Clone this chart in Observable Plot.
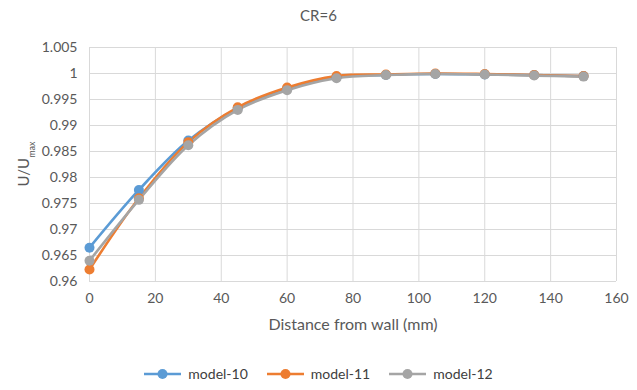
<!DOCTYPE html>
<html>
<head>
<meta charset="utf-8">
<script src="https://cdn.jsdelivr.net/npm/d3@7"></script>
<script src="https://cdn.jsdelivr.net/npm/@observablehq/plot@0.6"></script>
<style>
  body { margin: 0; background: #fff; font-family: Lato, "Liberation Sans", sans-serif; }
  #wrap { width: 637px; height: 390px; position: relative; }
  #title { height: 30px; line-height: 30px; text-align: center; font-size: 15px; color: #595959; }
  #legend { position: absolute; top: 365px; left: 0; width: 637px; display: flex; justify-content: center; gap: 19px; font-size: 14px; color: #404040; }
  #legend .item { display: flex; align-items: center; gap: 7px; }
</style>
</head>
<body>
<div id="wrap">
  <div id="title">CR=6</div>
  <div id="chart"></div>
  <div id="legend"></div>
</div>
<script>
const distance = [0, 15, 30, 45, 60, 75, 90, 105, 120, 135, 150];
const model10 = [0.9665, 0.9776, 0.9871, 0.9933, 0.9971, 0.9993, 0.9997, 0.9999, 0.9998, 0.9997, 0.9995];
const model11 = [0.9623, 0.9760, 0.9868, 0.9935, 0.9973, 0.9995, 0.9998, 1.0000, 0.9999, 0.9997, 0.9995];
const model12 = [0.9640, 0.9757, 0.9862, 0.9930, 0.9968, 0.9991, 0.9997, 0.9999, 0.9998, 0.9996, 0.9994];
const seriesNames = ["model-10", "model-11", "model-12"];
const seriesColors = ["#5b9bd5", "#ed7d31", "#a5a5a5"];
const xTicks = [0, 20, 40, 60, 80, 100, 120, 140, 160];
const yTicks = [0.96, 0.965, 0.97, 0.975, 0.98, 0.985, 0.99, 0.995, 1, 1.005];

const seriesValues = [model10, model11, model12];
const data = seriesNames.flatMap((name, i) =>
  distance.map((d, j) => ({ series: name, x: d, y: seriesValues[i][j] }))
);

const chart = Plot.plot({
  width: 637,
  height: 322,
  marginTop: 17,
  marginBottom: 71,
  marginLeft: 89,
  marginRight: 21,
  style: { fontFamily: "Lato, 'Liberation Sans', sans-serif", fontSize: "14px", color: "#595959" },
  x: { domain: [0, 160], ticks: xTicks, label: null },
  y: { domain: [0.96, 1.005], ticks: yTicks, label: null, tickFormat: d => String(+d.toFixed(3)) },
  color: { domain: seriesNames, range: seriesColors },
  marks: [
    Plot.gridX(xTicks, { stroke: "#d9d9d9", strokeOpacity: 1 }),
    Plot.gridY(yTicks, { stroke: "#d9d9d9", strokeOpacity: 1 }),
    Plot.axisX({ ticks: xTicks, tickSize: 0, tickPadding: 12, fill: "#595959", fontSize: 14 }),
    Plot.axisY({ ticks: yTicks, tickSize: 0, tickPadding: 12, fill: "#595959", fontSize: 14, tickFormat: d => String(+d.toFixed(3)) }),
    Plot.line(data, { x: "x", y: "y", z: "series", stroke: "series", strokeWidth: 2.6, curve: "catmull-rom" }),
    Plot.dot(data, { x: "x", y: "y", fill: "series", r: 5 }),
    Plot.text(["Distance from wall (mm)"], { frameAnchor: "bottom", dy: 48, fill: "#595959", fontSize: 16 })
  ]
});
document.getElementById("chart").appendChild(chart);

// Y axis label with subscript
const svg = d3.select(chart);
const yl = svg.append("text")
  .attr("transform", "translate(29," + (17 + (322 - 17 - 71) / 2) + ") rotate(-90)")
  .attr("text-anchor", "middle")
  .attr("fill", "#595959")
  .style("font-size", "15px");
yl.append("tspan").text("U/U");
yl.append("tspan").attr("baseline-shift", "sub").style("font-size", "9px").text("max");

// Legend
const legend = d3.select("#legend");
seriesNames.forEach((name, i) => {
  const item = legend.append("div").attr("class", "item");
  const s = item.append("svg").attr("width", 37).attr("height", 12);
  s.append("line").attr("x1", 0).attr("x2", 37).attr("y1", 6).attr("y2", 6)
    .attr("stroke", seriesColors[i]).attr("stroke-width", 2.6);
  s.append("circle").attr("cx", 18.5).attr("cy", 6).attr("r", 5).attr("fill", seriesColors[i]);
  item.append("span").text(name);
});
</script>
</body>
</html>
